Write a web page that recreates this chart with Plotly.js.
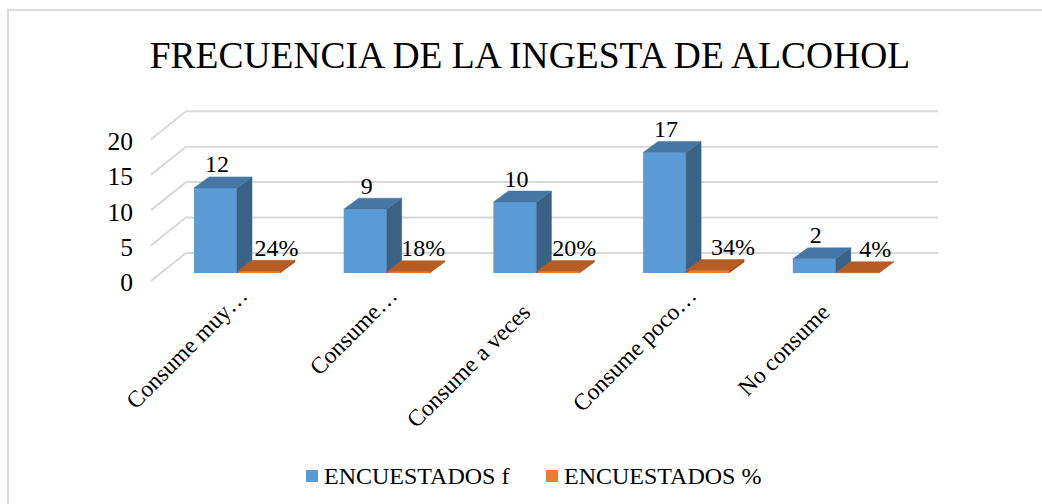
<!DOCTYPE html>
<html><head><meta charset="utf-8">
<script src="https://cdn.plot.ly/plotly-3.0.1.min.js"></script>
<style>html,body{margin:0;padding:0;background:#fff}#c{width:1042px;height:504px}</style>
</head><body><div id="c"></div>
<script>
const categories = ["Consume muy…","Consume…","Consume a veces","Consume poco…","No consume"];
const seriesNames = ["ENCUESTADOS f","ENCUESTADOS %"];
const encuestadosF = [12,9,10,17,2];
const encuestadosPct = [0.24,0.18,0.20,0.34,0.04];
const yTicks = [0,5,10,15,20];
const pctLabelNudge = [0.12,0.10,0.11,0.17,0.12];

const FONT = "'Liberation Serif','Times New Roman',serif";
const W=1042,H=504,L=148,R=938,T=100,ZERO=281,B=287;
const pxX=149.7, pxY=7.09;
const toX=p=>p/pxX, toY=p=>p/pxY;
const xMin=-(237-L)/pxX, xMax=xMin+(R-L)/pxX, yMax=(ZERO-T)/pxY, yMin=-(B-ZERO)/pxY;
const barW=toX(43), baseY=toY(8);
const ddx=toX(15), ddy=toY(11);
const wallX=xMin+toX(38), wallY=toY(28);
const idx=categories.map((_,i)=>i);
const gridColor="#d9d9d9";
const paperX=p=>(p-L)/(R-L), paperY=p=>(B-p)/(B-T);
const labelLift=toY(1.5);
const tickLabels=categories.map(c=>c.endsWith("…")?c:c+"\u00A0\u00A0\u00A0\u00A0");

const gridShapes=yTicks.map(t=>({type:"path",layer:"below",xref:"x",yref:"y",
  path:`M${xMin+toX(3)},${t} L${wallX},${t+wallY} L${xMax},${t+wallY}`,line:{color:gridColor,width:2}}));

function faceTrace(vals,off,kind,color){
  const x=[],y=[];
  vals.forEach((v,i)=>{
    const x0=i+off,x1=x0+barW;
    if(kind==="top"){
      x.push(x0,x1,x1+ddx,x0+ddx,x0,null);
      y.push(baseY+v,baseY+v,baseY+v+ddy,baseY+v+ddy,baseY+v,null);
    }else{
      x.push(x1,x1+ddx,x1+ddx,x1,x1,null);
      y.push(baseY,baseY+ddy,baseY+v+ddy,baseY+v,baseY,null);
    }
  });
  return {type:"scatter",mode:"lines",x,y,fill:"toself",fillcolor:color,line:{color:color,width:0.5},showlegend:false,hoverinfo:"skip"};
}
const labelFont={family:FONT,size:24,color:"#000"};
const traces=[
  {type:"bar",name:seriesNames[0],x:idx,y:encuestadosF,base:baseY,marker:{color:"#5b9bd5",line:{width:0}},hoverinfo:"skip",showlegend:false},
  {type:"bar",name:seriesNames[1],x:idx,y:encuestadosPct,base:baseY,marker:{color:"#ed7d31",line:{width:0}},hoverinfo:"skip",showlegend:false},
  faceTrace(encuestadosF,-barW,"side","#3a6285"),
  faceTrace(encuestadosF,-barW,"top","#4676a3"),
  faceTrace(encuestadosPct,0,"side","#9c4f1d"),
  faceTrace(encuestadosPct,0,"top","#b55d22"),
  {type:"scatter",mode:"text",x:idx.map(i=>i-barW/2+0.01),y:encuestadosF.map(v=>v+baseY+ddy-labelLift),
   text:encuestadosF.map(String),textposition:"top center",textfont:labelFont,showlegend:false,hoverinfo:"skip",cliponaxis:false},
  {type:"scatter",mode:"text",x:idx.map(i=>i+barW/2+pctLabelNudge[i]),y:encuestadosPct.map(v=>v+baseY+ddy-labelLift),
   text:encuestadosPct.map(p=>Math.round(p*100)+"%"),textposition:"top center",textfont:labelFont,showlegend:false,hoverinfo:"skip",cliponaxis:false}
];
const frame={type:"path",xref:"paper",yref:"paper",layer:"below",
  path:`M${paperX(8)},${paperY(504)} L${paperX(8)},${paperY(10)} L${paperX(1042)},${paperY(10)}`,
  line:{color:"#dcdcdc",width:2}};
const swatch=(px,color)=>({type:"rect",xref:"paper",yref:"paper",x0:paperX(px),x1:paperX(px+12),y0:paperY(482),y1:paperY(470),
  line:{width:0},fillcolor:color});
const legendText=(px,text)=>({xref:"paper",yref:"paper",x:paperX(px),y:paperY(476),xanchor:"left",yanchor:"middle",showarrow:false,
  text,font:{family:FONT,size:24,color:"#000"}});
const layout={
  width:W,height:H,paper_bgcolor:"#fff",plot_bgcolor:"rgba(0,0,0,0)",
  margin:{l:L,r:W-R,t:T,b:H-B,pad:0},
  title:{text:"FRECUENCIA DE LA INGESTA DE ALCOHOL",x:530/W,xanchor:"center",y:1-55/H,yanchor:"middle",font:{family:FONT,size:37.5,color:"#000"}},
  barmode:"group",bargap:1-(2*barW),bargroupgap:0,
  xaxis:{range:[xMin,xMax],tickmode:"array",tickvals:idx.map(i=>i+0.024),ticktext:tickLabels,tickangle:-45,showgrid:false,zeroline:false,showline:false,ticks:"",ticklabelstandoff:-11,
         tickfont:{family:FONT,size:23.5,color:"#000"},fixedrange:true},
  yaxis:{range:[yMin,yMax],tickmode:"array",tickvals:yTicks.map(t=>t-toY(1.5)),ticktext:yTicks.map(String),showgrid:false,zeroline:false,showline:false,ticks:"",ticklabelstandoff:14,
         tickfont:{family:FONT,size:25.5,color:"#000"},fixedrange:true},
  shapes:[frame,...gridShapes,swatch(306,"#5b9bd5"),swatch(546,"#ed7d31")],
  annotations:[legendText(322,seriesNames[0]),legendText(562,seriesNames[1])],
  showlegend:false
};
Plotly.newPlot("c",traces,layout,{displayModeBar:false,staticPlot:true});
</script></body></html>
